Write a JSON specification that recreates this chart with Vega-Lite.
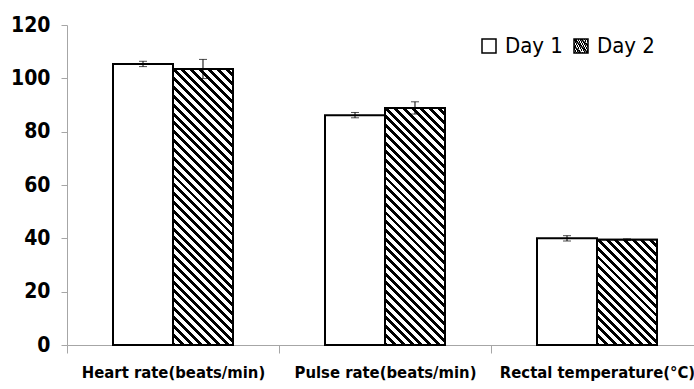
{
  "$schema": "https://vega.github.io/schema/vega-lite/v6.json",
  "autosize": "none",
  "width": 627,
  "height": 320,
  "padding": {"left": 67, "top": 25, "right": 0, "bottom": 44},
  "background": "white",
  "config": {
    "view": {"stroke": null},
    "font": "Liberation Sans Narrow, DejaVu Sans Condensed, sans-serif"
  },
  "data": {
    "values": [
      {"cat": "Heart rate(beats/min)", "day": "Day 1", "value": 105.4, "lo": 104.4, "hi": 106.4},
      {"cat": "Heart rate(beats/min)", "day": "Day 2", "value": 103.5, "lo": 99.9, "hi": 107.1},
      {"cat": "Pulse rate(beats/min)", "day": "Day 1", "value": 86.2, "lo": 85.2, "hi": 87.2},
      {"cat": "Pulse rate(beats/min)", "day": "Day 2", "value": 88.9, "lo": 86.6, "hi": 91.2},
      {"cat": "Rectal temperature(°C)", "day": "Day 1", "value": 40.0, "lo": 39.0, "hi": 41.0},
      {"cat": "Rectal temperature(°C)", "day": "Day 2", "value": 39.5, "lo": 39.2, "hi": 39.8}
    ]
  },
  "encoding": {
    "x": {
      "field": "cat", "type": "nominal", "sort": null,
      "scale": {"range": [0, 636], "paddingInner": 0, "paddingOuter": 0},
      "axis": {
        "title": null, "labelAngle": 0, "tickBand": "extent", "tickSize": 8, "labelLimit": 0,
        "domainColor": "#a6a6a6", "tickColor": "#a6a6a6", "labelFontSize": 16.5,
        "labelFontWeight": "bold", "labelColor": "black", "labelPadding": 11
      }
    },
    "xOffset": {
      "field": "day", "type": "nominal", "sort": null,
      "scale": {"domain": ["Day 1", "Day 2"], "paddingInner": 0, "paddingOuter": 0.7667}
    }
  },
  "layer": [
    {
      "mark": {"type": "bar", "stroke": "black", "strokeWidth": 2},
      "encoding": {
        "y": {
          "field": "value", "type": "quantitative",
          "scale": {"domain": [0, 120], "nice": false},
          "axis": {
            "title": null, "grid": false, "values": [0, 20, 40, 60, 80, 100, 120],
            "domainColor": "#a6a6a6", "tickColor": "#a6a6a6", "tickSize": 6,
            "labelFontSize": 21, "labelFontWeight": "bold", "labelColor": "black", "labelPadding": 11
          }
        },
        "fill": {
          "field": "day", "type": "nominal",
          "scale": {"domain": ["Day 1"], "range": ["white"]},
          "legend": {
            "title": null, "orient": "none", "legendX": 411, "legendY": 10,
            "direction": "horizontal", "symbolType": "square", "symbolSize": 196,
            "symbolStrokeColor": "black", "symbolStrokeWidth": 1.5,
            "labelFontSize": 22, "labelColor": "black", "labelOffset": 5,
            "encode": {
              "symbols": {
                "update": {
                  "stroke": {"value": "black"},
                  "strokeWidth": {"value": 1.5},
                  "opacity": {"value": 1},
                  "fill": {"value": "white"},
                  "fillOpacity": {"value": 1}
                }
              }
            }
          }
        }
      }
    },
    {
      "transform": [{"filter": "datum.day === 'Day 2' && datum.cat === 'Heart rate(beats/min)'"}],
      "mark": {"type": "bar", "strokeWidth": 2,
        "fill": {"gradient": "linear", "x1": 0, "y1": 1, "x2": 0.2527, "y2": -0.1625, "stops": [
          {"offset": 0, "color": "black"}, {"offset": 0.0118, "color": "black"}, {"offset": 0.0118, "color": "white"}, {"offset": 0.0263, "color": "white"},
          {"offset": 0.0263, "color": "black"}, {"offset": 0.0382, "color": "black"}, {"offset": 0.0382, "color": "white"}, {"offset": 0.0526, "color": "white"},
          {"offset": 0.0526, "color": "black"}, {"offset": 0.0645, "color": "black"}, {"offset": 0.0645, "color": "white"}, {"offset": 0.0789, "color": "white"},
          {"offset": 0.0789, "color": "black"}, {"offset": 0.0908, "color": "black"}, {"offset": 0.0908, "color": "white"}, {"offset": 0.1053, "color": "white"},
          {"offset": 0.1053, "color": "black"}, {"offset": 0.1171, "color": "black"}, {"offset": 0.1171, "color": "white"}, {"offset": 0.1316, "color": "white"},
          {"offset": 0.1316, "color": "black"}, {"offset": 0.1434, "color": "black"}, {"offset": 0.1434, "color": "white"}, {"offset": 0.1579, "color": "white"},
          {"offset": 0.1579, "color": "black"}, {"offset": 0.1697, "color": "black"}, {"offset": 0.1697, "color": "white"}, {"offset": 0.1842, "color": "white"},
          {"offset": 0.1842, "color": "black"}, {"offset": 0.1961, "color": "black"}, {"offset": 0.1961, "color": "white"}, {"offset": 0.2105, "color": "white"},
          {"offset": 0.2105, "color": "black"}, {"offset": 0.2224, "color": "black"}, {"offset": 0.2224, "color": "white"}, {"offset": 0.2368, "color": "white"},
          {"offset": 0.2368, "color": "black"}, {"offset": 0.2487, "color": "black"}, {"offset": 0.2487, "color": "white"}, {"offset": 0.2632, "color": "white"},
          {"offset": 0.2632, "color": "black"}, {"offset": 0.2750, "color": "black"}, {"offset": 0.2750, "color": "white"}, {"offset": 0.2895, "color": "white"},
          {"offset": 0.2895, "color": "black"}, {"offset": 0.3013, "color": "black"}, {"offset": 0.3013, "color": "white"}, {"offset": 0.3158, "color": "white"},
          {"offset": 0.3158, "color": "black"}, {"offset": 0.3276, "color": "black"}, {"offset": 0.3276, "color": "white"}, {"offset": 0.3421, "color": "white"},
          {"offset": 0.3421, "color": "black"}, {"offset": 0.3539, "color": "black"}, {"offset": 0.3539, "color": "white"}, {"offset": 0.3684, "color": "white"},
          {"offset": 0.3684, "color": "black"}, {"offset": 0.3803, "color": "black"}, {"offset": 0.3803, "color": "white"}, {"offset": 0.3947, "color": "white"},
          {"offset": 0.3947, "color": "black"}, {"offset": 0.4066, "color": "black"}, {"offset": 0.4066, "color": "white"}, {"offset": 0.4211, "color": "white"},
          {"offset": 0.4211, "color": "black"}, {"offset": 0.4329, "color": "black"}, {"offset": 0.4329, "color": "white"}, {"offset": 0.4474, "color": "white"},
          {"offset": 0.4474, "color": "black"}, {"offset": 0.4592, "color": "black"}, {"offset": 0.4592, "color": "white"}, {"offset": 0.4737, "color": "white"},
          {"offset": 0.4737, "color": "black"}, {"offset": 0.4855, "color": "black"}, {"offset": 0.4855, "color": "white"}, {"offset": 0.5, "color": "white"},
          {"offset": 0.5, "color": "black"}, {"offset": 0.5118, "color": "black"}, {"offset": 0.5118, "color": "white"}, {"offset": 0.5263, "color": "white"},
          {"offset": 0.5263, "color": "black"}, {"offset": 0.5382, "color": "black"}, {"offset": 0.5382, "color": "white"}, {"offset": 0.5526, "color": "white"},
          {"offset": 0.5526, "color": "black"}, {"offset": 0.5645, "color": "black"}, {"offset": 0.5645, "color": "white"}, {"offset": 0.5789, "color": "white"},
          {"offset": 0.5789, "color": "black"}, {"offset": 0.5908, "color": "black"}, {"offset": 0.5908, "color": "white"}, {"offset": 0.6053, "color": "white"},
          {"offset": 0.6053, "color": "black"}, {"offset": 0.6171, "color": "black"}, {"offset": 0.6171, "color": "white"}, {"offset": 0.6316, "color": "white"},
          {"offset": 0.6316, "color": "black"}, {"offset": 0.6434, "color": "black"}, {"offset": 0.6434, "color": "white"}, {"offset": 0.6579, "color": "white"},
          {"offset": 0.6579, "color": "black"}, {"offset": 0.6697, "color": "black"}, {"offset": 0.6697, "color": "white"}, {"offset": 0.6842, "color": "white"},
          {"offset": 0.6842, "color": "black"}, {"offset": 0.6961, "color": "black"}, {"offset": 0.6961, "color": "white"}, {"offset": 0.7105, "color": "white"},
          {"offset": 0.7105, "color": "black"}, {"offset": 0.7224, "color": "black"}, {"offset": 0.7224, "color": "white"}, {"offset": 0.7368, "color": "white"},
          {"offset": 0.7368, "color": "black"}, {"offset": 0.7487, "color": "black"}, {"offset": 0.7487, "color": "white"}, {"offset": 0.7632, "color": "white"},
          {"offset": 0.7632, "color": "black"}, {"offset": 0.7750, "color": "black"}, {"offset": 0.7750, "color": "white"}, {"offset": 0.7895, "color": "white"},
          {"offset": 0.7895, "color": "black"}, {"offset": 0.8013, "color": "black"}, {"offset": 0.8013, "color": "white"}, {"offset": 0.8158, "color": "white"},
          {"offset": 0.8158, "color": "black"}, {"offset": 0.8276, "color": "black"}, {"offset": 0.8276, "color": "white"}, {"offset": 0.8421, "color": "white"},
          {"offset": 0.8421, "color": "black"}, {"offset": 0.8539, "color": "black"}, {"offset": 0.8539, "color": "white"}, {"offset": 0.8684, "color": "white"},
          {"offset": 0.8684, "color": "black"}, {"offset": 0.8803, "color": "black"}, {"offset": 0.8803, "color": "white"}, {"offset": 0.8947, "color": "white"},
          {"offset": 0.8947, "color": "black"}, {"offset": 0.9066, "color": "black"}, {"offset": 0.9066, "color": "white"}, {"offset": 0.9211, "color": "white"},
          {"offset": 0.9211, "color": "black"}, {"offset": 0.9329, "color": "black"}, {"offset": 0.9329, "color": "white"}, {"offset": 0.9474, "color": "white"},
          {"offset": 0.9474, "color": "black"}, {"offset": 0.9592, "color": "black"}, {"offset": 0.9592, "color": "white"}, {"offset": 0.9737, "color": "white"},
          {"offset": 0.9737, "color": "black"}, {"offset": 0.9855, "color": "black"}, {"offset": 0.9855, "color": "white"}, {"offset": 1, "color": "white"}
        ]}
      },
      "encoding": {
        "y": {"field": "value", "type": "quantitative"},
        "stroke": {
          "field": "day", "type": "nominal",
          "scale": {"domain": ["Day 2"], "range": ["black"]},
          "legend": {
            "title": null, "orient": "none", "legendX": 503, "legendY": 10,
            "direction": "horizontal",
            "symbolType": "M-1,-1H1V1H-1Z M-1,-1L1,1 M-1,0L0,1 M0,-1L1,0",
            "symbolSize": 196, "symbolStrokeColor": "black", "symbolStrokeWidth": 1.5,
            "symbolFillColor": "white",
            "labelFontSize": 22, "labelColor": "black", "labelOffset": 5,
            "encode": {
              "symbols": {
                "update": {
                  "stroke": {"value": "black"},
                  "strokeWidth": {"value": 1.5},
                  "opacity": {"value": 1},
                  "fill": {"value": "white"},
                  "fillOpacity": {"value": 1}
                }
              }
            }
          }
        }
      }
    },
    {
      "transform": [{"filter": "datum.day === 'Day 2' && datum.cat === 'Pulse rate(beats/min)'"}],
      "mark": {"type": "bar", "stroke": "black", "strokeWidth": 2,
        "fill": {"gradient": "linear", "x1": 0, "y1": 1, "x2": 0.2981, "y2": -0.1777, "stops": [
          {"offset": 0, "color": "black"}, {"offset": 0.0132, "color": "black"}, {"offset": 0.0132, "color": "white"}, {"offset": 0.0294, "color": "white"},
          {"offset": 0.0294, "color": "black"}, {"offset": 0.0426, "color": "black"}, {"offset": 0.0426, "color": "white"}, {"offset": 0.0588, "color": "white"},
          {"offset": 0.0588, "color": "black"}, {"offset": 0.0721, "color": "black"}, {"offset": 0.0721, "color": "white"}, {"offset": 0.0882, "color": "white"},
          {"offset": 0.0882, "color": "black"}, {"offset": 0.1015, "color": "black"}, {"offset": 0.1015, "color": "white"}, {"offset": 0.1176, "color": "white"},
          {"offset": 0.1176, "color": "black"}, {"offset": 0.1309, "color": "black"}, {"offset": 0.1309, "color": "white"}, {"offset": 0.1471, "color": "white"},
          {"offset": 0.1471, "color": "black"}, {"offset": 0.1603, "color": "black"}, {"offset": 0.1603, "color": "white"}, {"offset": 0.1765, "color": "white"},
          {"offset": 0.1765, "color": "black"}, {"offset": 0.1897, "color": "black"}, {"offset": 0.1897, "color": "white"}, {"offset": 0.2059, "color": "white"},
          {"offset": 0.2059, "color": "black"}, {"offset": 0.2191, "color": "black"}, {"offset": 0.2191, "color": "white"}, {"offset": 0.2353, "color": "white"},
          {"offset": 0.2353, "color": "black"}, {"offset": 0.2485, "color": "black"}, {"offset": 0.2485, "color": "white"}, {"offset": 0.2647, "color": "white"},
          {"offset": 0.2647, "color": "black"}, {"offset": 0.2779, "color": "black"}, {"offset": 0.2779, "color": "white"}, {"offset": 0.2941, "color": "white"},
          {"offset": 0.2941, "color": "black"}, {"offset": 0.3074, "color": "black"}, {"offset": 0.3074, "color": "white"}, {"offset": 0.3235, "color": "white"},
          {"offset": 0.3235, "color": "black"}, {"offset": 0.3368, "color": "black"}, {"offset": 0.3368, "color": "white"}, {"offset": 0.3529, "color": "white"},
          {"offset": 0.3529, "color": "black"}, {"offset": 0.3662, "color": "black"}, {"offset": 0.3662, "color": "white"}, {"offset": 0.3824, "color": "white"},
          {"offset": 0.3824, "color": "black"}, {"offset": 0.3956, "color": "black"}, {"offset": 0.3956, "color": "white"}, {"offset": 0.4118, "color": "white"},
          {"offset": 0.4118, "color": "black"}, {"offset": 0.4250, "color": "black"}, {"offset": 0.4250, "color": "white"}, {"offset": 0.4412, "color": "white"},
          {"offset": 0.4412, "color": "black"}, {"offset": 0.4544, "color": "black"}, {"offset": 0.4544, "color": "white"}, {"offset": 0.4706, "color": "white"},
          {"offset": 0.4706, "color": "black"}, {"offset": 0.4838, "color": "black"}, {"offset": 0.4838, "color": "white"}, {"offset": 0.5, "color": "white"},
          {"offset": 0.5, "color": "black"}, {"offset": 0.5132, "color": "black"}, {"offset": 0.5132, "color": "white"}, {"offset": 0.5294, "color": "white"},
          {"offset": 0.5294, "color": "black"}, {"offset": 0.5426, "color": "black"}, {"offset": 0.5426, "color": "white"}, {"offset": 0.5588, "color": "white"},
          {"offset": 0.5588, "color": "black"}, {"offset": 0.5721, "color": "black"}, {"offset": 0.5721, "color": "white"}, {"offset": 0.5882, "color": "white"},
          {"offset": 0.5882, "color": "black"}, {"offset": 0.6015, "color": "black"}, {"offset": 0.6015, "color": "white"}, {"offset": 0.6176, "color": "white"},
          {"offset": 0.6176, "color": "black"}, {"offset": 0.6309, "color": "black"}, {"offset": 0.6309, "color": "white"}, {"offset": 0.6471, "color": "white"},
          {"offset": 0.6471, "color": "black"}, {"offset": 0.6603, "color": "black"}, {"offset": 0.6603, "color": "white"}, {"offset": 0.6765, "color": "white"},
          {"offset": 0.6765, "color": "black"}, {"offset": 0.6897, "color": "black"}, {"offset": 0.6897, "color": "white"}, {"offset": 0.7059, "color": "white"},
          {"offset": 0.7059, "color": "black"}, {"offset": 0.7191, "color": "black"}, {"offset": 0.7191, "color": "white"}, {"offset": 0.7353, "color": "white"},
          {"offset": 0.7353, "color": "black"}, {"offset": 0.7485, "color": "black"}, {"offset": 0.7485, "color": "white"}, {"offset": 0.7647, "color": "white"},
          {"offset": 0.7647, "color": "black"}, {"offset": 0.7779, "color": "black"}, {"offset": 0.7779, "color": "white"}, {"offset": 0.7941, "color": "white"},
          {"offset": 0.7941, "color": "black"}, {"offset": 0.8074, "color": "black"}, {"offset": 0.8074, "color": "white"}, {"offset": 0.8235, "color": "white"},
          {"offset": 0.8235, "color": "black"}, {"offset": 0.8368, "color": "black"}, {"offset": 0.8368, "color": "white"}, {"offset": 0.8529, "color": "white"},
          {"offset": 0.8529, "color": "black"}, {"offset": 0.8662, "color": "black"}, {"offset": 0.8662, "color": "white"}, {"offset": 0.8824, "color": "white"},
          {"offset": 0.8824, "color": "black"}, {"offset": 0.8956, "color": "black"}, {"offset": 0.8956, "color": "white"}, {"offset": 0.9118, "color": "white"},
          {"offset": 0.9118, "color": "black"}, {"offset": 0.9250, "color": "black"}, {"offset": 0.9250, "color": "white"}, {"offset": 0.9412, "color": "white"},
          {"offset": 0.9412, "color": "black"}, {"offset": 0.9544, "color": "black"}, {"offset": 0.9544, "color": "white"}, {"offset": 0.9706, "color": "white"},
          {"offset": 0.9706, "color": "black"}, {"offset": 0.9838, "color": "black"}, {"offset": 0.9838, "color": "white"}, {"offset": 1, "color": "white"}
        ]}
      },
      "encoding": {"y": {"field": "value", "type": "quantitative"}}
    },
    {
      "transform": [{"filter": "datum.day === 'Day 2' && datum.cat === 'Rectal temperature(°C)'"}],
      "mark": {"type": "bar", "stroke": "black", "strokeWidth": 2,
        "fill": {"gradient": "linear", "x1": 0, "y1": 1, "x2": 0.6751, "y2": -0.1851, "stops": [
          {"offset": 0, "color": "black"}, {"offset": 0.0237, "color": "black"}, {"offset": 0.0237, "color": "white"}, {"offset": 0.0526, "color": "white"},
          {"offset": 0.0526, "color": "black"}, {"offset": 0.0763, "color": "black"}, {"offset": 0.0763, "color": "white"}, {"offset": 0.1053, "color": "white"},
          {"offset": 0.1053, "color": "black"}, {"offset": 0.1289, "color": "black"}, {"offset": 0.1289, "color": "white"}, {"offset": 0.1579, "color": "white"},
          {"offset": 0.1579, "color": "black"}, {"offset": 0.1816, "color": "black"}, {"offset": 0.1816, "color": "white"}, {"offset": 0.2105, "color": "white"},
          {"offset": 0.2105, "color": "black"}, {"offset": 0.2342, "color": "black"}, {"offset": 0.2342, "color": "white"}, {"offset": 0.2632, "color": "white"},
          {"offset": 0.2632, "color": "black"}, {"offset": 0.2868, "color": "black"}, {"offset": 0.2868, "color": "white"}, {"offset": 0.3158, "color": "white"},
          {"offset": 0.3158, "color": "black"}, {"offset": 0.3395, "color": "black"}, {"offset": 0.3395, "color": "white"}, {"offset": 0.3684, "color": "white"},
          {"offset": 0.3684, "color": "black"}, {"offset": 0.3921, "color": "black"}, {"offset": 0.3921, "color": "white"}, {"offset": 0.4211, "color": "white"},
          {"offset": 0.4211, "color": "black"}, {"offset": 0.4447, "color": "black"}, {"offset": 0.4447, "color": "white"}, {"offset": 0.4737, "color": "white"},
          {"offset": 0.4737, "color": "black"}, {"offset": 0.4974, "color": "black"}, {"offset": 0.4974, "color": "white"}, {"offset": 0.5263, "color": "white"},
          {"offset": 0.5263, "color": "black"}, {"offset": 0.5500, "color": "black"}, {"offset": 0.5500, "color": "white"}, {"offset": 0.5789, "color": "white"},
          {"offset": 0.5789, "color": "black"}, {"offset": 0.6026, "color": "black"}, {"offset": 0.6026, "color": "white"}, {"offset": 0.6316, "color": "white"},
          {"offset": 0.6316, "color": "black"}, {"offset": 0.6553, "color": "black"}, {"offset": 0.6553, "color": "white"}, {"offset": 0.6842, "color": "white"},
          {"offset": 0.6842, "color": "black"}, {"offset": 0.7079, "color": "black"}, {"offset": 0.7079, "color": "white"}, {"offset": 0.7368, "color": "white"},
          {"offset": 0.7368, "color": "black"}, {"offset": 0.7605, "color": "black"}, {"offset": 0.7605, "color": "white"}, {"offset": 0.7895, "color": "white"},
          {"offset": 0.7895, "color": "black"}, {"offset": 0.8132, "color": "black"}, {"offset": 0.8132, "color": "white"}, {"offset": 0.8421, "color": "white"},
          {"offset": 0.8421, "color": "black"}, {"offset": 0.8658, "color": "black"}, {"offset": 0.8658, "color": "white"}, {"offset": 0.8947, "color": "white"},
          {"offset": 0.8947, "color": "black"}, {"offset": 0.9184, "color": "black"}, {"offset": 0.9184, "color": "white"}, {"offset": 0.9474, "color": "white"},
          {"offset": 0.9474, "color": "black"}, {"offset": 0.9711, "color": "black"}, {"offset": 0.9711, "color": "white"}, {"offset": 1, "color": "white"}
        ]}
      },
      "encoding": {"y": {"field": "value", "type": "quantitative"}}
    },
    {
      "mark": {"type": "rule", "color": "black", "strokeWidth": 1},
      "encoding": {
        "y": {"field": "lo", "type": "quantitative"},
        "y2": {"field": "hi"}
      }
    },
    {
      "mark": {"type": "tick", "orient": "horizontal", "size": 8, "thickness": 1, "color": "black"},
      "encoding": {"y": {"field": "lo", "type": "quantitative"}}
    },
    {
      "mark": {"type": "tick", "orient": "horizontal", "size": 8, "thickness": 1, "color": "black"},
      "encoding": {"y": {"field": "hi", "type": "quantitative"}}
    }
  ]
}
